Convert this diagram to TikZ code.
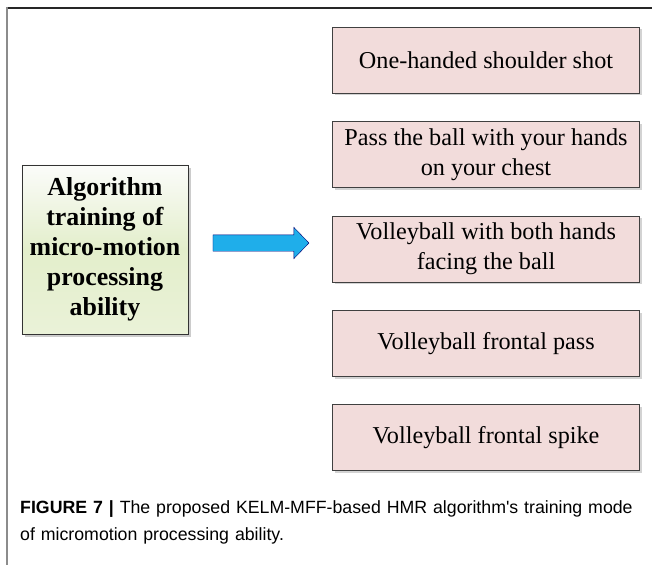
\documentclass[tikz,border=0pt]{standalone}
\usepackage{fontspec}
\setmainfont{Liberation Serif}
\newfontfamily\capfont{Liberation Sans}
\usepackage{tikz}
\usetikzlibrary{positioning,shapes.arrows,shadows}

\definecolor{stepfill}{HTML}{F2DCDB}
\definecolor{mainfill}{HTML}{E3EECB}
\definecolor{arrowfill}{HTML}{1FAEEA}

\begin{document}
\begin{tikzpicture}[
			x=1bp, y=-1bp,
			node distance=28bp,
			motion/.style={rectangle, draw=black!75, fill=stepfill, minimum width=307bp, minimum height=66bp, inner sep=2bp, align=center, font=\fontsize{24.3}{30}\selectfont, drop shadow={shadow xshift=2.5bp, shadow yshift=-2.5bp, opacity=0.35}},
			mainbox/.style={rectangle, draw=black!80, thick, top color=mainfill!85!black!6, bottom color=mainfill!75!white, middle color=mainfill, minimum width=166bp, minimum height=169bp, align=center, font=\fontsize{26}{30}\selectfont\bfseries, drop shadow={shadow xshift=3bp, shadow yshift=-3bp, opacity=0.4}},
			bigarrow/.style={single arrow, draw=blue!45!black, fill=arrowfill, minimum height=96bp, minimum width=31bp, single arrow head extend=7.5bp, single arrow tip angle=92, inner xsep=0pt, inner ysep=8bp}
		]
		\useasboundingbox (0,0) rectangle (652,565);

		% frame
		\draw[line width=2bp, black!85] (6,8) -- (652,8);
		\draw[line width=2.2bp, black!45] (7,7) -- (7,565);

		% Nodes using relative positioning
		\node (algo) [mainbox] at (105,249.5) {Algorithm\\training of\\micro-motion\\processing\\ability};

		\node (shoulder) [motion] at (486,60) {One-handed shoulder shot};
		\node (chest) [motion, below=of shoulder] {Pass the ball with your hands\\on your chest};
		\node (facing) [motion, below=of chest] {Volleyball with both hands\\facing the ball};
		\node (pass) [motion, below=of facing] {Volleyball frontal pass};
		\node (spike) [motion, below=of pass] {Volleyball frontal spike};

		% arrow
		\node (arr) [bigarrow] at (257,243) {};

		% caption
		\node (caption) [anchor=north west, align=left, text width=630bp, inner sep=0pt, font=\capfont\fontsize{17.8}{28}\selectfont] at (20,500) {\textbf{FIGURE 7 |} The proposed KELM-MFF-based HMR algorithm's training mode\\of micromotion processing ability.};
	\end{tikzpicture}
\end{document}
